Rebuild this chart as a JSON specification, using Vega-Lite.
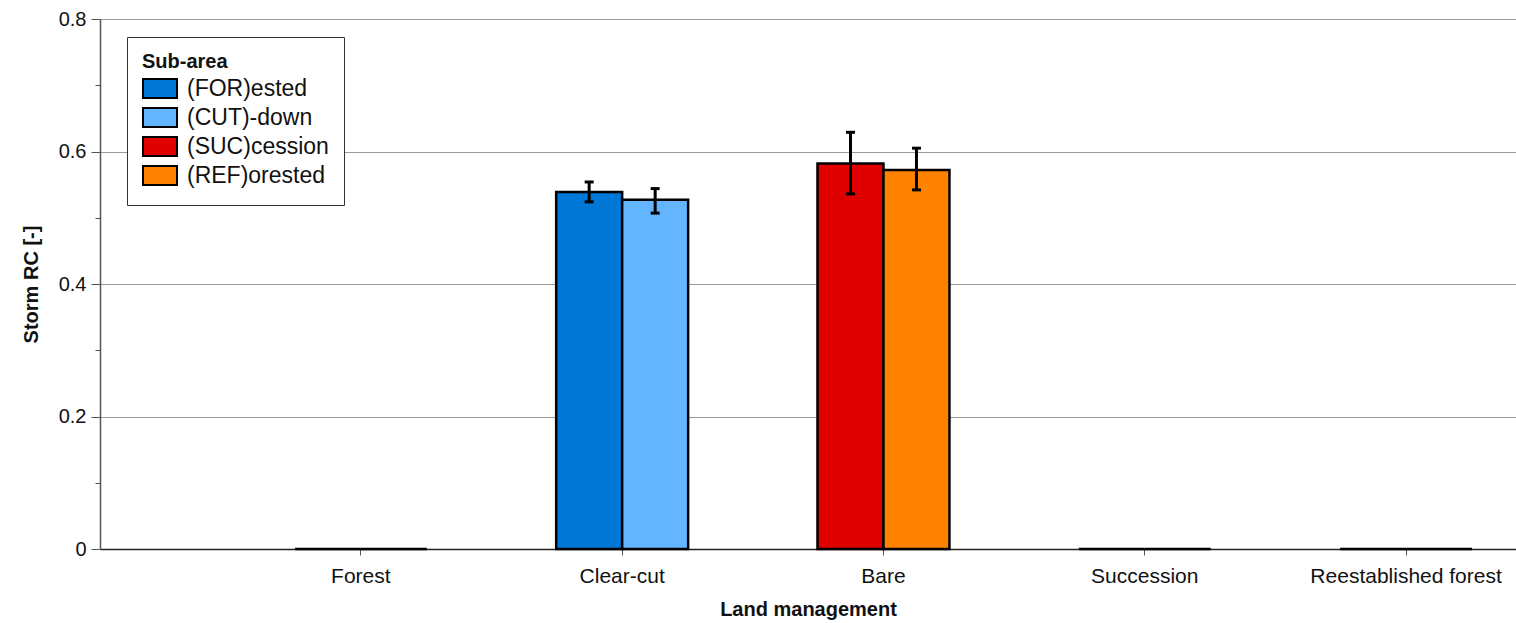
{
  "$schema": "https://vega.github.io/schema/vega-lite/v6.json",
  "width": 1416,
  "height": 530,
  "autosize": {"type": "none"},
  "padding": {"left": 100, "top": 19, "right": 0, "bottom": 74},
  "config": {"font": "Liberation Sans", "view": {"stroke": null}},
  "data": {
    "values": [
      {"land": "Forest", "slot": 1, "sub": "(FOR)ested", "value": 0, "lo": null, "hi": null},
      {"land": "Forest", "slot": 2, "sub": "(CUT)-down", "value": 0, "lo": null, "hi": null},
      {"land": "Clear-cut", "slot": 1, "sub": "(FOR)ested", "value": 0.539, "lo": 0.524, "hi": 0.554},
      {"land": "Clear-cut", "slot": 2, "sub": "(CUT)-down", "value": 0.527, "lo": 0.507, "hi": 0.544},
      {"land": "Bare", "slot": 1, "sub": "(SUC)cession", "value": 0.582, "lo": 0.536, "hi": 0.629},
      {"land": "Bare", "slot": 2, "sub": "(REF)orested", "value": 0.572, "lo": 0.542, "hi": 0.605},
      {"land": "Succession", "slot": 1, "sub": "(SUC)cession", "value": 0, "lo": null, "hi": null},
      {"land": "Succession", "slot": 2, "sub": "(REF)orested", "value": 0, "lo": null, "hi": null},
      {"land": "Reestablished forest", "slot": 1, "sub": "(SUC)cession", "value": 0, "lo": null, "hi": null},
      {"land": "Reestablished forest", "slot": 2, "sub": "(REF)orested", "value": 0, "lo": null, "hi": null}
    ]
  },
  "encoding": {
    "x": {
      "field": "land",
      "type": "nominal",
      "sort": ["Forest", "Clear-cut", "Bare", "Succession", "Reestablished forest"],
      "scale": {"paddingInner": 0.495, "paddingOuter": 0.457, "align": 0.816},
      "axis": {
        "title": "Land management",
        "titleFontSize": 20,
        "titleFontWeight": "bold",
        "titleColor": "#111",
        "titlePadding": 13,
        "labelAngle": 0,
        "labelFontSize": 21,
        "labelColor": "#111",
        "labelPadding": 10,
        "labelLimit": 400,
        "tickSize": 6,
        "tickColor": "#555",
        "domainColor": "#222",
        "domainWidth": 1.5,
        "grid": false
      }
    },
    "xOffset": {"field": "slot", "type": "ordinal", "scale": {"paddingInner": 0, "paddingOuter": 0}}
  },
  "layer": [
    {
      "mark": {"type": "bar", "stroke": "black", "strokeWidth": 2.5},
      "encoding": {
        "y": {
          "field": "value",
          "type": "quantitative",
          "scale": {"domain": [0, 0.8], "nice": false},
          "axis": {
            "values": [0, 0.05, 0.1, 0.15, 0.2, 0.25, 0.3, 0.35, 0.4, 0.45, 0.5, 0.55, 0.6, 0.65, 0.7, 0.75, 0.8],
            "labelExpr": "round(datum.value*20)%4==0 ? (datum.value==0 ? '0' : format(datum.value, '.1f')) : ''",
            "labelOverlap": false,
            "labelFontSize": 20,
            "labelColor": "#111",
            "labelPadding": 5,
            "tickSize": {"condition": {"test": "round(datum.value*20)%4==0", "value": 9}, "value": 5},
            "tickColor": "#555",
            "domainColor": "#555",
            "domainWidth": 1.5,
            "grid": true,
            "gridColor": "#999",
            "gridOpacity": {"condition": {"test": "round(datum.value*20)%4==0 && datum.value>0", "value": 1}, "value": 0},
            "title": "Storm RC [-]",
            "titleFontSize": 20,
            "titleFontWeight": "bold",
            "titleColor": "#111",
            "titlePadding": 17
          }
        },
        "color": {
          "field": "sub",
          "type": "nominal",
          "scale": {
            "domain": ["(FOR)ested", "(CUT)-down", "(SUC)cession", "(REF)orested"],
            "range": ["#0078d7", "#63b5ff", "#e00000", "#ff8200"]
          },
          "legend": {
            "title": "Sub-area",
            "orient": "none",
            "legendX": 27,
            "legendY": 18,
            "padding": 15,
            "fillColor": "white",
            "strokeColor": "#333",
            "titleFontSize": 20,
            "titleFontWeight": "bold",
            "titleColor": "#111",
            "titlePadding": 2,
            "labelFontSize": 23,
            "labelColor": "#111",
            "labelOffset": 9,
            "rowPadding": 0,
            "clipHeight": 29,
            "symbolType": "M-1,-0.56L1,-0.56L1,0.56L-1,0.56Z",
            "symbolSize": 1156,
            "symbolStrokeColor": "black",
            "symbolStrokeWidth": 2,
            "symbolOpacity": 1
          }
        }
      }
    },
    {
      "transform": [{"filter": "datum.lo != null"}],
      "mark": {"type": "rule", "strokeWidth": 3, "color": "black"},
      "encoding": {
        "y": {"field": "lo", "type": "quantitative"},
        "y2": {"field": "hi"}
      }
    },
    {
      "transform": [{"filter": "datum.lo != null"}],
      "mark": {"type": "tick", "thickness": 3, "size": 9, "color": "black", "opacity": 1},
      "encoding": {"y": {"field": "lo", "type": "quantitative"}}
    },
    {
      "transform": [{"filter": "datum.lo != null"}],
      "mark": {"type": "tick", "thickness": 3, "size": 9, "color": "black", "opacity": 1},
      "encoding": {"y": {"field": "hi", "type": "quantitative"}}
    }
  ]
}
